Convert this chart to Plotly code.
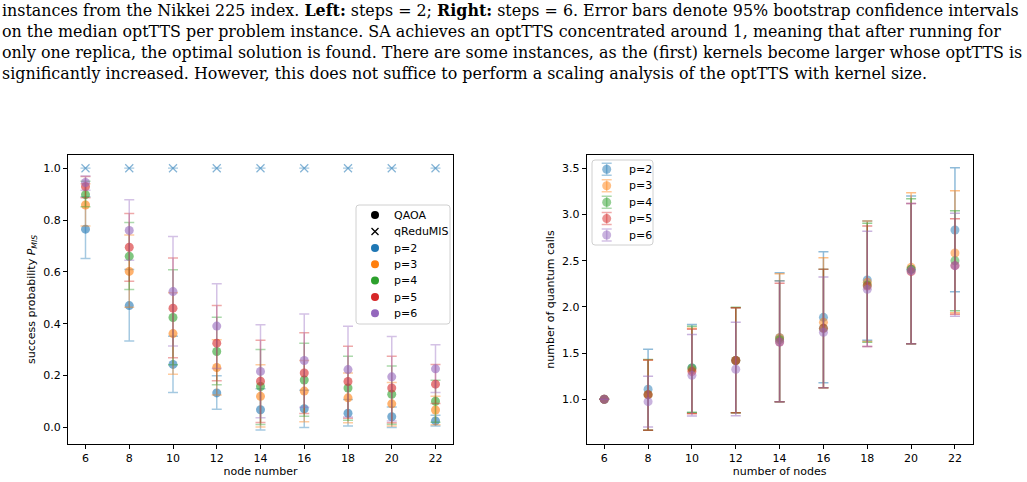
import numpy as np
import plotly.graph_objects as go

# ---------------- data ----------------
nodes = [6, 8, 10, 12, 14, 16, 18, 20, 22]
p_labels = ["p=2", "p=3", "p=4", "p=5", "p=6"]

# Left: success probability (QAOA), median and 95% CI
qaoa_p2 = [0.765, 0.470, 0.243, 0.133, 0.068, 0.072, 0.055, 0.041, 0.025]
qaoa_p2_lo = [0.652, 0.333, 0.135, 0.070, -0.010, 0.000, 0.005, 0.000, 0.005]
qaoa_p2_hi = [0.890, 0.609, 0.352, 0.199, 0.149, 0.143, 0.108, 0.079, 0.047]
qaoa_p3 = [0.858, 0.602, 0.362, 0.231, 0.120, 0.140, 0.114, 0.091, 0.067]
qaoa_p3_lo = [0.777, 0.464, 0.205, 0.125, 0.002, 0.022, 0.018, 0.005, 0.010]
qaoa_p3_hi = [0.940, 0.742, 0.520, 0.338, 0.242, 0.258, 0.210, 0.173, 0.120]
qaoa_p4 = [0.898, 0.660, 0.424, 0.293, 0.158, 0.183, 0.152, 0.128, 0.101]
qaoa_p4_lo = [0.851, 0.532, 0.242, 0.165, 0.011, 0.043, 0.028, 0.012, 0.020]
qaoa_p4_hi = [0.950, 0.791, 0.608, 0.425, 0.301, 0.325, 0.275, 0.237, 0.182]
qaoa_p5 = [0.929, 0.695, 0.460, 0.325, 0.178, 0.210, 0.177, 0.152, 0.167]
qaoa_p5_lo = [0.886, 0.564, 0.269, 0.180, 0.019, 0.054, 0.035, 0.018, 0.092]
qaoa_p5_hi = [0.968, 0.825, 0.654, 0.470, 0.336, 0.365, 0.313, 0.275, 0.243]
qaoa_p6 = [0.945, 0.760, 0.524, 0.391, 0.216, 0.258, 0.223, 0.195, 0.226]
qaoa_p6_lo = [0.915, 0.645, 0.314, 0.227, 0.037, 0.078, 0.040, 0.025, 0.135]
qaoa_p6_hi = [0.970, 0.878, 0.737, 0.554, 0.396, 0.438, 0.390, 0.351, 0.319]
qredumis = [1.0, 1.0, 1.0, 1.0, 1.0, 1.0, 1.0, 1.0, 1.0]

# Right: number of quantum calls, median and 95% CI
calls_p2 = [1.0, 1.108, 1.339, 1.420, 1.667, 1.887, 2.291, 2.407, 2.832]
calls_p2_lo = [1.0, 0.664, 0.855, 0.855, 0.974, 1.180, 1.638, 1.600, 2.165]
calls_p2_hi = [1.0, 1.541, 1.810, 1.991, 2.370, 2.597, 2.930, 3.200, 3.506]
calls_p3 = [1.0, 1.050, 1.320, 1.420, 1.667, 1.833, 2.266, 2.428, 2.583]
calls_p3_lo = [1.0, 0.664, 0.850, 0.855, 0.974, 1.126, 1.625, 1.600, 1.937]
calls_p3_hi = [1.0, 1.425, 1.770, 1.991, 2.360, 2.532, 2.930, 3.236, 3.257]
calls_p4 = [1.0, 1.050, 1.339, 1.420, 1.645, 1.768, 2.237, 2.407, 2.500]
calls_p4_lo = [1.0, 0.664, 0.859, 0.855, 0.974, 1.126, 1.617, 1.600, 1.959]
calls_p4_hi = [1.0, 1.430, 1.790, 1.995, 2.284, 2.407, 2.905, 3.170, 3.041]
calls_p5 = [1.0, 1.050, 1.300, 1.420, 1.620, 1.768, 2.226, 2.381, 2.446]
calls_p5_lo = [1.0, 0.664, 0.844, 0.855, 0.974, 1.126, 1.570, 1.600, 1.920]
calls_p5_hi = [1.0, 1.425, 1.758, 1.991, 2.255, 2.407, 2.875, 3.120, 2.955]
calls_p6 = [1.0, 0.974, 1.260, 1.325, 1.620, 1.725, 2.190, 2.390, 2.446]
calls_p6_lo = [1.0, 0.700, 0.820, 0.822, 0.974, 1.126, 1.570, 1.600, 1.900]
calls_p6_hi = [1.0, 1.249, 1.700, 1.833, 2.280, 2.324, 2.820, 3.120, 3.013]

caption_lines = [
    "instances from the Nikkei 225 index. <b>Left:</b> steps = 2; <b>Right:</b> steps = 6. Error bars denote 95% bootstrap confidence intervals",
    "on the median optTTS per problem instance. SA achieves an optTTS concentrated around 1, meaning that after running for",
    "only one replica, the optimal solution is found. There are some instances, as the (first) kernels become larger whose optTTS is",
    "significantly increased. However, this does not suffice to perform a scaling analysis of the optTTS with kernel size.",
]
left_legend_labels = ["QAOA", "qReduMIS"] + p_labels

# ---------------- style ----------------
colors = ["31,119,180", "255,127,14", "44,160,44", "214,39,40", "148,103,189"]
W, H = 1027, 482
FONT = "DejaVu Sans"
FS = 11
EPS = 1e-4  # keeps zero-length error bars visible as caps

left_sets = [(qaoa_p2, qaoa_p2_lo, qaoa_p2_hi), (qaoa_p3, qaoa_p3_lo, qaoa_p3_hi),
             (qaoa_p4, qaoa_p4_lo, qaoa_p4_hi), (qaoa_p5, qaoa_p5_lo, qaoa_p5_hi),
             (qaoa_p6, qaoa_p6_lo, qaoa_p6_hi)]
right_sets = [(calls_p2, calls_p2_lo, calls_p2_hi), (calls_p3, calls_p3_lo, calls_p3_hi),
              (calls_p4, calls_p4_lo, calls_p4_hi), (calls_p5, calls_p5_lo, calls_p5_hi),
              (calls_p6, calls_p6_lo, calls_p6_hi)]

fig = go.Figure()

# left: qReduMIS
fig.add_trace(go.Scatter(
    x=nodes, y=qredumis, mode="markers", xaxis="x", yaxis="y", showlegend=False,
    marker=dict(symbol="x-thin", size=8, color="rgba(%s,0.5)" % colors[0],
                line=dict(color="rgba(%s,0.55)" % colors[0], width=1.2)),
    error_y=dict(type="data", array=[EPS] * len(nodes), color="rgba(%s,0.4)" % colors[0],
                 thickness=1.2, width=5),
    hoverinfo="skip"))

# left: QAOA
for (y, lo, hi), c in zip(left_sets, colors):
    y = np.array(y); lo = np.array(lo); hi = np.array(hi)
    fig.add_trace(go.Scatter(
        x=nodes, y=y, mode="markers", xaxis="x", yaxis="y", showlegend=False,
        marker=dict(symbol="circle", size=9, color="rgba(%s,0.6)" % c, line=dict(width=0)),
        error_y=dict(type="data", symmetric=False, array=hi - y, arrayminus=y - lo,
                     color="rgba(%s,0.4)" % c, thickness=1.5, width=5)))

# right
for (y, lo, hi), c in zip(right_sets, colors):
    y = np.array(y); lo = np.array(lo); hi = np.array(hi)
    fig.add_trace(go.Scatter(
        x=nodes, y=y, mode="markers", xaxis="x2", yaxis="y2", showlegend=False,
        marker=dict(symbol="circle", size=9, color="rgba(%s,0.5)" % c, line=dict(width=0)),
        error_y=dict(type="data", symmetric=False, array=np.maximum(hi - y, EPS),
                     arrayminus=np.maximum(y - lo, EPS),
                     color="rgba(%s,0.5)" % c, thickness=1.5, width=5)))

# ---- hand-built legends on an invisible pixel-space overlay axis (x3/y3) ----
def rounded_rect(x0, y0, x1, y1, r=3):
    return (f"M{x0+r},{y0} L{x1-r},{y0} Q{x1},{y0} {x1},{y0+r} L{x1},{y1-r} "
            f"Q{x1},{y1} {x1-r},{y1} L{x0+r},{y1} Q{x0},{y1} {x0},{y1-r} "
            f"L{x0},{y0+r} Q{x0},{y0} {x0+r},{y0} Z")

shapes = []
annotations = []

# left legend
L_box = (356, 205, 450, 324)
L_mx, L_tx = 375, 392
L_ys = [215, 231.5, 248, 264.3, 280.6, 297, 313.3]
shapes.append(dict(type="path", path=rounded_rect(*L_box), xref="x3", yref="y3",
                   fillcolor="rgba(255,255,255,0.8)", line=dict(color="#d0d0d0", width=1),
                   layer="below"))
leg_colors = ["rgb(0,0,0)", "rgb(0,0,0)"] + ["rgb(%s)" % c for c in colors]
leg_symbols = ["circle", "x-thin"] + ["circle"] * 5
for yy, col, sym, lab in zip(L_ys, leg_colors, leg_symbols, left_legend_labels):
    fig.add_trace(go.Scatter(
        x=[L_mx], y=[yy], mode="markers", xaxis="x3", yaxis="y3", showlegend=False,
        marker=dict(symbol=sym, size=8 if sym == "circle" else 7, color=col,
                    line=dict(color=col, width=1.3 if sym != "circle" else 0)),
        hoverinfo="skip"))
    annotations.append(dict(text=lab, x=L_tx, y=yy, xref="x3", yref="y3", showarrow=False,
                            xanchor="left", yanchor="middle",
                            font=dict(family=FONT, size=FS, color="black")))

# right legend
R_box = (592, 160, 653, 245)
R_mx, R_tx = 606.7, 626.5
R_ys = [169.3, 185.8, 202.2, 218.6, 235]
shapes.append(dict(type="path", path=rounded_rect(*R_box), xref="x3", yref="y3",
                   fillcolor="rgba(255,255,255,0.8)", line=dict(color="#d0d0d0", width=1),
                   layer="below"))
for yy, c, lab in zip(R_ys, colors, p_labels):
    fig.add_trace(go.Scatter(
        x=[R_mx], y=[yy], mode="markers", xaxis="x3", yaxis="y3", showlegend=False,
        marker=dict(symbol="circle", size=9, color="rgba(%s,0.5)" % c, line=dict(width=0)),
        error_y=dict(type="constant", value=6, color="rgba(%s,0.4)" % c, thickness=1.5, width=5),
        hoverinfo="skip"))
    annotations.append(dict(text=lab, x=R_tx, y=yy, xref="x3", yref="y3", showarrow=False,
                            xanchor="left", yanchor="middle",
                            font=dict(family=FONT, size=FS, color="black")))

# caption
for i, line in enumerate(caption_lines):
    annotations.append(dict(
        text=line, xref="paper", yref="paper", x=0.0, y=1 - (10 + 21.2 * i) / H,
        xanchor="left", yanchor="middle", showarrow=False,
        font=dict(family="DejaVu Serif", size=15.9, color="black")))

axis_common = dict(showline=True, mirror=True, linecolor="black", linewidth=1,
                   ticks="outside", ticklen=4, tickwidth=1, tickcolor="black",
                   showgrid=False, zeroline=False,
                   tickfont=dict(family=FONT, size=FS, color="black"))

fig.update_layout(
    width=W, height=H, margin=dict(l=0, r=0, t=0, b=0),
    paper_bgcolor="white", plot_bgcolor="rgba(0,0,0,0)",
    font=dict(family=FONT, size=FS, color="black"),
    showlegend=False,
    xaxis=dict(domain=[68 / W, 453 / W], range=[5.2, 22.8], tickvals=nodes,
               title=dict(text="node number", font=dict(size=FS), standoff=3),
               anchor="y", **axis_common),
    yaxis=dict(domain=[38 / H, 327 / H], range=[-0.064, 1.051],
               tickvals=[0, 0.2, 0.4, 0.6, 0.8, 1.0], tickformat=".1f",
               title=dict(text="success probability <i>P</i><sub><i>MIS</i></sub>",
                          font=dict(size=FS), standoff=5),
               anchor="x", **axis_common),
    xaxis2=dict(domain=[586.7 / W, 972.5 / W], range=[5.2, 22.8], tickvals=nodes,
                title=dict(text="number of nodes", font=dict(size=FS), standoff=3),
                anchor="y2", **axis_common),
    yaxis2=dict(domain=[38 / H, 327 / H], range=[0.516, 3.644],
                tickvals=[1.0, 1.5, 2.0, 2.5, 3.0, 3.5], tickformat=".1f",
                title=dict(text="number of quantum calls", font=dict(size=FS), standoff=5),
                anchor="x2", **axis_common),
    xaxis3=dict(domain=[0, 1], range=[0, W], visible=False, fixedrange=True, anchor="y3"),
    yaxis3=dict(domain=[0, 1], range=[H, 0], visible=False, fixedrange=True, anchor="x3"),
    shapes=shapes,
    annotations=annotations,
)

fig.write_html("out.html")
